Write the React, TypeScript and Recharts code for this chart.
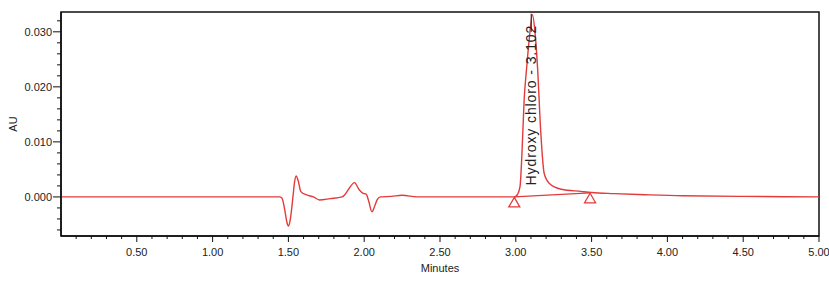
import React from "react";
import { LineChart, Line, XAxis, YAxis, ReferenceArea, ReferenceDot } from "recharts";

// Chromatogram trace (minutes, AU)
const times = [
  0, 0.5, 1.0, 1.44, 1.457, 1.475, 1.49, 1.5, 1.51, 1.53, 1.54, 1.551, 1.565, 1.582,
  1.62, 1.665, 1.705, 1.776, 1.853, 1.875, 1.897, 1.936, 1.967, 1.99, 2.013, 2.03,
  2.051, 2.07, 2.085, 2.106, 2.18, 2.25, 2.35, 2.6, 2.9, 2.99, 3.0, 3.012, 3.028,
  3.04, 3.055, 3.072, 3.088, 3.11, 3.127, 3.143, 3.165, 3.187, 3.22, 3.3, 3.43,
  3.5, 3.65, 3.85, 4.1, 4.5, 5.0,
];
const auValues = [
  0, 0, 0, 0, -0.0002, -0.0022, -0.0046, -0.0053, -0.0045, 0.0, 0.0026, 0.0038, 0.0029,
  0.00097, 0.00036, 0.0, -0.00055, -0.0003, 0.0, 0.0005, 0.0014, 0.0026, 0.0013, 0.0007,
  0.0005, -0.0008, -0.0027, -0.0016, -0.00055, 0.0, 0.0001, 0.0003, 0.0, 0.0, 0.0, 0.0,
  0.0001, 0.0005, 0.0019, 0.0075, 0.0176, 0.0236, 0.0285, 0.0331, 0.0298, 0.0237,
  0.0116, 0.0043, 0.0025, 0.0014, 0.001, 0.0008, 0.0006, 0.0004, 0.0002, 0.0001, 0.0,
];

// Integration baseline between the peak start/end markers
const baselineTimes = [2.99, 3.49];
const baselineValues = [0.0, 0.00075];

// Peak annotation
const peakName = "Hydroxy chloro";
const peakTime = 3.102;
const peakLabelValue = 0.0331;

// Axis ticks
const xMajorTicks = [0.5, 1.0, 1.5, 2.0, 2.5, 3.0, 3.5, 4.0, 4.5, 5.0];
const xMajorLabels = ["0.50", "1.00", "1.50", "2.00", "2.50", "3.00", "3.50", "4.00", "4.50", "5.00"];
const xTicks = Array.from({ length: 50 }, (_, i) => (i + 1) / 10);
const yMajorTicks = [0, 0.01, 0.02, 0.03];
const yMajorLabels = ["0.000", "0.010", "0.020", "0.030"];
const yTicks = Array.from({ length: 20 }, (_, i) => (i * 2 - 6) / 1000);

const xDomain: [number, number] = [0, 5];
const yDomain: [number, number] = [-0.0071, 0.0336];

const RED = "#e33b3b";
const TEXT = "#222";
const FONT = "'Liberation Sans', Arial, sans-serif";

const data = times.map((t, i) => ({ t, au: auValues[i] }));
const baselineData = baselineTimes.map((t, i) => ({ t, base: baselineValues[i] }));

const isMajor = (v: number, majors: number[]) => majors.findIndex((m) => Math.abs(m - v) < 1e-9);

const XTick = (props: any) => {
  const { x, y, payload } = props;
  const idx = isMajor(payload.value, xMajorTicks);
  const major = idx >= 0;
  return (
    <g>
      <line x1={x} x2={x} y1={y} y2={y + (major ? 6 : 3)} stroke="#111" strokeWidth={1} />
      {major && (
        <text x={x} y={y + 16} textAnchor="middle" dominantBaseline="central" fontSize={11} fill={TEXT} fontFamily={FONT}>
          {xMajorLabels[idx]}
        </text>
      )}
    </g>
  );
};

const YTick = (props: any) => {
  const { x, y, payload } = props;
  const idx = isMajor(payload.value, yMajorTicks);
  const major = idx >= 0;
  return (
    <g>
      <line x1={x - (major ? 8 : 4)} x2={x} y1={y} y2={y} stroke="#111" strokeWidth={1} />
      {major && (
        <text x={x - 9} y={y} textAnchor="end" dominantBaseline="central" fontSize={11} fill={TEXT} fontFamily={FONT}>
          {yMajorLabels[idx]}
        </text>
      )}
    </g>
  );
};

const TriangleDot = (props: any) => {
  const { cx, cy } = props;
  if (cx == null || cy == null) return null;
  return (
    <path
      d={`M${cx},${cy + 0.5} L${cx + 5.5},${cy + 10} L${cx - 5.5},${cy + 10} Z`}
      fill="#fff"
      stroke={RED}
      strokeWidth={1.3}
    />
  );
};

const PeakLabel = (props: any) => {
  const { cx, cy } = props;
  const ty = cy + 10;
  return (
    <g>
      <line x1={cx} x2={cx} y1={cy - 1} y2={cy + 17} stroke="#333" strokeWidth={1.2} />
      <text
        x={cx}
        y={ty}
        transform={`rotate(-90, ${cx}, ${ty})`}
        textAnchor="end"
        dominantBaseline="central"
        fontSize={14}
        letterSpacing={0.9}
        fill={TEXT}
        fontFamily={FONT}
      >
        {`${peakName} - ${peakTime.toFixed(3)}`}
      </text>
    </g>
  );
};

export default function App() {
  return (
    <div style={{ position: "absolute", left: 0, top: 0, width: 829, height: 281, background: "#fff" }}>
      <LineChart width={829} height={281} data={data} margin={{ top: 12, right: 10, bottom: 0, left: 0 }}>
        <XAxis
          dataKey="t"
          type="number"
          domain={xDomain}
          ticks={xTicks}
          interval={0}
          tick={<XTick />}
          tickLine={false}
          tickSize={0}
          tickMargin={0}
          height={45}
          axisLine={{ stroke: "#111", strokeWidth: 1.5 }}
          allowDataOverflow
          label={{
            content: (p: any) => {
              const vb = p.viewBox;
              return (
                <text x={vb.x + vb.width / 2} y={vb.y + 32} textAnchor="middle" dominantBaseline="central" fontSize={11} fill={TEXT} fontFamily={FONT}>
                  Minutes
                </text>
              );
            },
          }}
        />
        <YAxis
          type="number"
          domain={yDomain}
          ticks={yTicks}
          interval={0}
          tick={<YTick />}
          tickLine={false}
          tickSize={0}
          tickMargin={0}
          width={61}
          axisLine={{ stroke: "#111", strokeWidth: 1.5 }}
          allowDataOverflow
          label={{
            content: (p: any) => {
              const vb = p.viewBox;
              const cx = vb.x + 13;
              const cy = vb.y + vb.height / 2;
              return (
                <text x={cx} y={cy} transform={`rotate(-90, ${cx}, ${cy})`} textAnchor="middle" dominantBaseline="central" fontSize={11} fill={TEXT} fontFamily={FONT}>
                  AU
                </text>
              );
            },
          }}
        />
        <ReferenceArea x1={xDomain[0]} x2={xDomain[1]} y1={yDomain[0]} y2={yDomain[1]} fill="none" stroke="#111" strokeWidth={1.5} ifOverflow="extendDomain" />
        <Line
          data={baselineData}
          dataKey="base"
          type="linear"
          stroke={RED}
          strokeWidth={1.2}
          dot={<TriangleDot />}
          isAnimationActive={false}
        />
        <Line dataKey="au" type="monotone" stroke={RED} strokeWidth={1.4} dot={false} isAnimationActive={false} />
        <ReferenceDot x={peakTime} y={peakLabelValue} shape={<PeakLabel />} ifOverflow="visible" />
      </LineChart>
    </div>
  );
}
